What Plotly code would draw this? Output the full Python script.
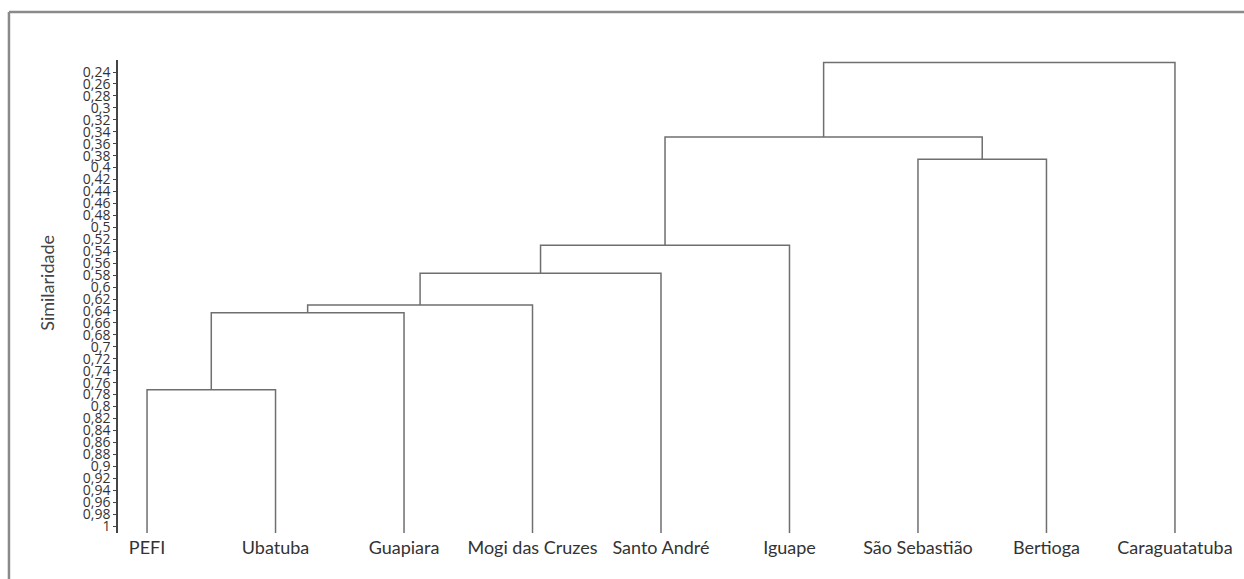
import plotly.graph_objects as go

# ---- data ----
leaves = ["PEFI", "Ubatuba", "Guapiara", "Mogi das Cruzes", "Santo André",
          "Iguape", "São Sebastião", "Bertioga", "Caraguatatuba"]
# merges: (left member, right member, similarity level); members are leaf names or cluster ids
merge_left = ["PEFI", "C1", "C2", "C3", "C4", "São Sebastião", "C5", "C7"]
merge_right = ["Ubatuba", "Guapiara", "Mogi das Cruzes", "Santo André", "Iguape", "Bertioga", "C6", "Caraguatatuba"]
merge_level = [0.772, 0.643, 0.630, 0.577, 0.530, 0.386, 0.349, 0.224]

tick_values = [round(0.24 + 0.02 * i, 2) for i in range(39)]
tick_labels = ["0,24", "0,26", "0,28", "0,3", "0,32", "0,34", "0,36", "0,38", "0,4",
               "0,42", "0,44", "0,46", "0,48", "0,5", "0,52", "0,54", "0,56", "0,58",
               "0,6", "0,62", "0,64", "0,66", "0,68", "0,7", "0,72", "0,74", "0,76",
               "0,78", "0,8", "0,82", "0,84", "0,86", "0,88", "0,9", "0,92", "0,94",
               "0,96", "0,98", "1"]

Y_TOP, Y_BOTTOM = 0.2199, 1.0117
X_RANGE = [-0.226, 8.226]

# ---- build dendrogram segments ----
pos = {name: (i, Y_BOTTOM) for i, name in enumerate(leaves)}
xs, ys = [], []
for k, (a, b, h) in enumerate(zip(merge_left, merge_right, merge_level), start=1):
    xa, ya = pos[a]
    xb, yb = pos[b]
    xs += [xa, xa, xb, xb, None]
    ys += [ya, h, h, yb, None]
    pos["C%d" % k] = ((xa + xb) / 2, h)

fig = go.Figure()
fig.add_trace(go.Scatter(x=xs, y=ys, mode="lines",
                         line=dict(color="#6f6f6f", width=1.5),
                         hoverinfo="skip", showlegend=False))

frame = dict(color="#8a8a8a", width=2.5)
fig.update_layout(
    width=1244, height=579, autosize=False,
    margin=dict(l=118, r=40, t=60, b=46),
    paper_bgcolor="white", plot_bgcolor="white",
    font=dict(family="Lato, Open Sans, sans-serif", color="#333"),
    xaxis=dict(range=X_RANGE, tickmode="array", tickvals=list(range(len(leaves))),
               ticktext=leaves, showgrid=False, zeroline=False, showline=False,
               ticks="", tickfont=dict(size=18, color="#333"), ticklabelstandoff=2),
    yaxis=dict(range=[Y_BOTTOM, Y_TOP], tickmode="array", tickvals=tick_values,
               ticktext=tick_labels, showgrid=False, zeroline=False,
               showline=True, linecolor="#444", linewidth=1.5,
               ticks="outside", ticklen=3, tickwidth=1, tickcolor="#444",
               tickfont=dict(size=14, color="#333", family="Open Sans, sans-serif")),
    annotations=[dict(text="Similaridade", xref="paper", yref="paper",
                      x=-0.0654, y=0.529, xanchor="center", yanchor="middle",
                      textangle=-90, showarrow=False,
                      font=dict(size=18, color="#444"))],
    shapes=[
        dict(type="line", xref="paper", yref="paper", x0=-0.1004, x1=1.2,
             y0=1.1015, y1=1.1015, line=frame, layer="above"),
        dict(type="line", xref="paper", yref="paper", x0=-0.1004, x1=-0.1004,
             y0=-0.2, y1=1.1015, line=frame, layer="above"),
    ],
)

fig.write_html("out.html")
